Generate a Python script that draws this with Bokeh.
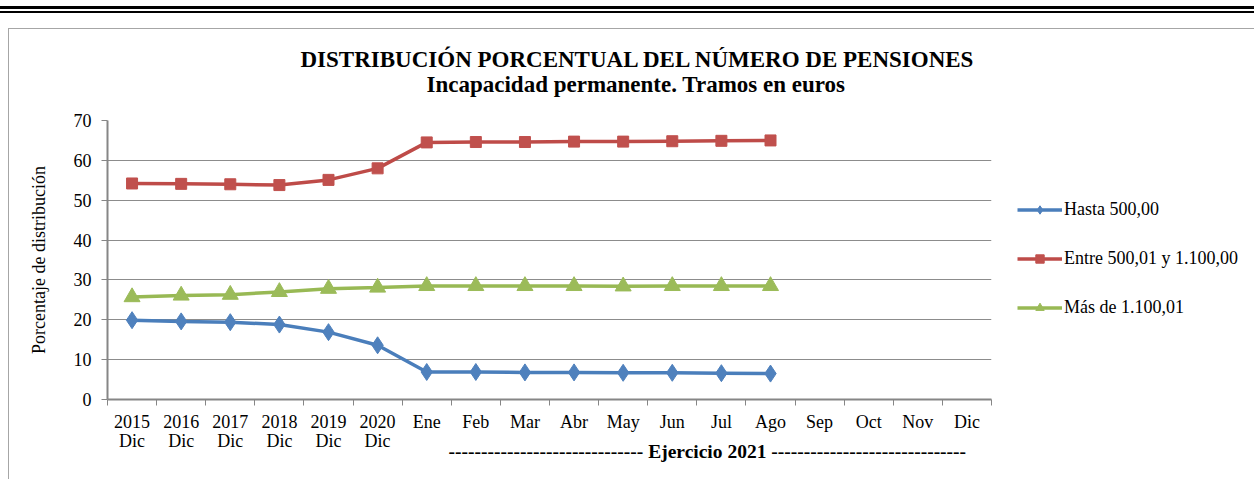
from bokeh.plotting import figure
from bokeh.models import (Range1d, LinearAxis, FixedTicker, Legend, LegendItem, Div, Title, Grid)
from bokeh.layouts import column
from bokeh.embed import file_html
from bokeh.resources import INLINE

# ---- data ----
categories = ["2015\nDic", "2016\nDic", "2017\nDic", "2018\nDic", "2019\nDic", "2020\nDic",
              "Ene", "Feb", "Mar", "Abr", "May", "Jun", "Jul", "Ago", "Sep", "Oct", "Nov", "Dic"]
hasta_500 = [19.9, 19.6, 19.4, 18.8, 16.9, 13.6, 6.9, 6.9, 6.8, 6.8, 6.7, 6.7, 6.6, 6.5]
entre_500_1100 = [54.2, 54.1, 54.0, 53.8, 55.1, 58.0, 64.5, 64.6, 64.6, 64.7, 64.7, 64.8, 64.9, 65.0]
mas_1100 = [25.7, 26.1, 26.3, 27.0, 27.8, 28.1, 28.5, 28.5, 28.5, 28.5, 28.4, 28.5, 28.5, 28.5]
series_names = ["Hasta 500,00", "Entre 500,01 y 1.100,00", "Más de 1.100,01"]
y_ticks = [0, 10, 20, 30, 40, 50, 60, 70]
title_1 = "DISTRIBUCIÓN PORCENTUAL DEL NÚMERO DE PENSIONES"
title_2 = "Incapacidad permanente. Tramos en euros"
bottom_text = "-" * 30 + " Ejercicio 2021 " + "-" * 30

FONT = "Liberation Serif"

p = figure(frame_width=883, frame_height=278, output_backend="svg", toolbar_location=None,
           x_range=Range1d(0, len(categories)), y_range=Range1d(0, 70),
           x_axis_type=None, y_axis_type=None,
           min_border_left=98, min_border_right=0, min_border_top=91, min_border_bottom=81,
           background_fill_color="white", border_fill_color="white",
           margin=(0, 0, 0, 8))
p.outline_line_color = None
p.styles = {"border-left": "1px solid #a6a6a6", "border-top": "1px solid #a6a6a6"}

# y axis
yax = LinearAxis(ticker=FixedTicker(ticks=y_ticks), axis_label="Porcentaje de distribución")
yax.axis_line_color = "#868686"
yax.axis_line_width = 2
yax.major_tick_line_color = "#868686"
yax.major_tick_out = 6
yax.major_tick_in = 0
yax.minor_tick_line_color = None
yax.major_label_text_font = FONT
yax.major_label_text_font_size = "18px"
yax.major_label_text_color = "black"
yax.major_label_standoff = 10
yax.axis_label_text_font = FONT
yax.axis_label_text_font_size = "18px"
yax.axis_label_text_font_style = "normal"
yax.axis_label_text_color = "black"
yax.axis_label_standoff = 22
p.add_layout(yax, "left")

# x axis: labels at category centres, ticks at category boundaries
centers = [i + 0.5 for i in range(len(categories))]
bounds = list(range(len(categories) + 1))
xax = LinearAxis(ticker=FixedTicker(ticks=centers, minor_ticks=bounds),
                 major_label_overrides={c: lab for c, lab in zip(centers, categories)})
xax.axis_line_color = "#868686"
xax.axis_line_width = 2
xax.major_tick_line_color = None
xax.minor_tick_line_color = "#868686"
xax.minor_tick_out = 6
xax.minor_tick_in = 0
xax.major_tick_out = 6
xax.major_tick_in = 0
xax.major_label_text_font = FONT
xax.major_label_text_font_size = "18px"
xax.major_label_text_line_height = 0.97
xax.major_label_text_color = "black"
xax.major_label_standoff = 6
p.add_layout(xax, "below")

# grid
p.add_layout(Grid(dimension=1, ticker=FixedTicker(ticks=y_ticks), grid_line_color="#8c8c8c"))

colors_line = ["#4A7EBB", "#BE4B48", "#98B954"]
colors_marker = ["#4F81BD", "#C0504D", "#9BBB59"]
markers = ["diamond", "square", "triangle"]
sizes = [17, 11, 16]
data = [hasta_500, entre_500_1100, mas_1100]

items = []
for vals, name, lc, mc, mk, sz in zip(data, series_names, colors_line, colors_marker, markers, sizes):
    xs = centers[:len(vals)]
    lr = p.line(xs, vals, line_color=lc, line_width=3.5)
    sr = p.scatter(xs, vals, marker=mk, size=sz, fill_color=mc, line_color=mc)
    items.append(LegendItem(label=name, renderers=[lr, sr]))

legend = Legend(items=items, location=(26, 81), orientation="vertical")
legend.label_text_font = FONT
legend.label_text_font_size = "18px"
legend.label_text_color = "black"
legend.glyph_width = 45
legend.glyph_height = 21
legend.label_height = 21
legend.spacing = 28
legend.label_standoff = 2
legend.padding = 0
legend.margin = 0
legend.border_line_color = None
legend.background_fill_alpha = 0
p.add_layout(legend, "right")

# titles (line 2 first: it sits nearer the frame)
p.add_layout(Title(text=title_2, align="left", offset=319, text_font=FONT,
                   text_font_size="23px", text_font_style="bold", text_color="black",
                   standoff=48), "above")
p.add_layout(Title(text=title_1, align="left", offset=193, text_font=FONT,
                   text_font_size="23px", text_font_style="bold", text_color="black",
                   standoff=-52), "above")
p.add_layout(Title(text=bottom_text, align="left", offset=341, text_font=FONT,
                   text_font_size="19.5px", text_font_style="bold", text_color="black",
                   vertical_align="top", standoff=-26), "below")

top = Div(width=1254, height=28, margin=(0, 0, 0, 0), text=(
    '<div style="position:relative;width:1254px;height:28px;">'
    '<div style="position:absolute;top:6px;left:0;width:1254px;height:3px;background:#000;"></div>'
    '<div style="position:absolute;top:11px;left:0;width:1254px;height:2px;background:#000;"></div>'
    '</div>'))

layout = column(top, p, spacing=0)
open("out.html", "w").write(file_html(layout, INLINE))
